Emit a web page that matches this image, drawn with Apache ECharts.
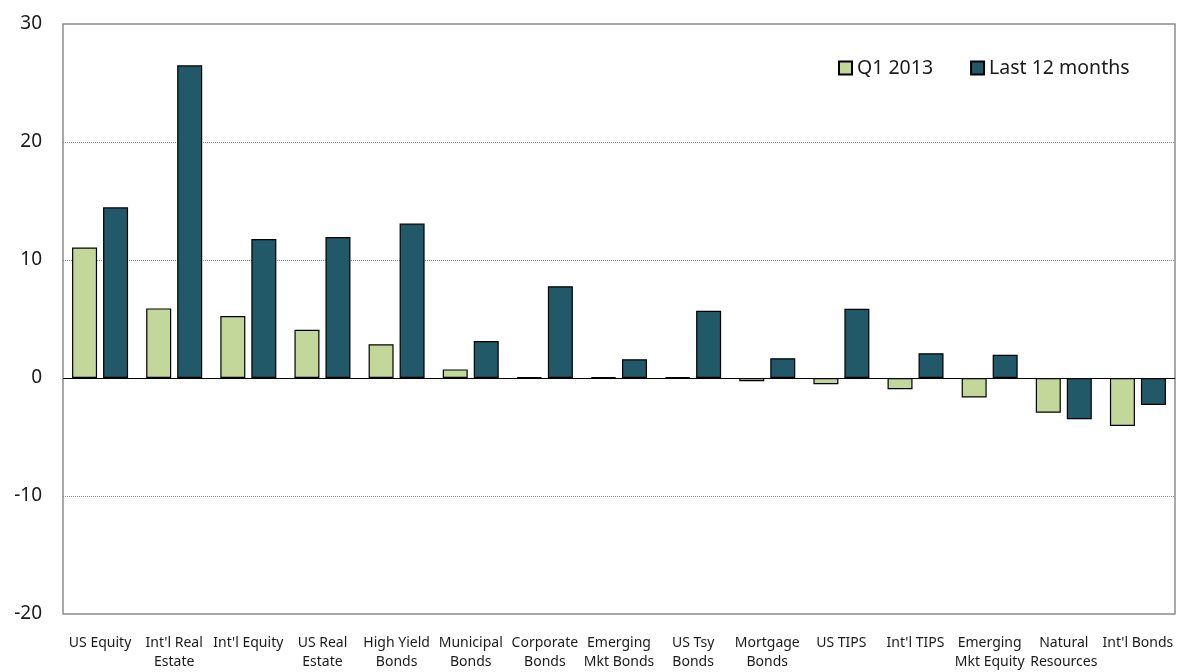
<!DOCTYPE html>
<html>
<head>
<meta charset="utf-8">
<script src="https://cdn.jsdelivr.net/npm/echarts@6/dist/echarts.min.js"></script>
<style>
  html, body { margin:0; padding:0; background:#fff; }
  #chart { width:1177px; height:672px; }
</style>
</head>
<body>
<div id="chart"></div>
<script>
const categories = ['US Equity', "Int'l Real\nEstate", "Int'l Equity", 'US Real\nEstate', 'High Yield\nBonds',
    'Municipal\nBonds', 'Corporate\nBonds', 'Emerging\nMkt Bonds', 'US Tsy\nBonds', 'Mortgage\nBonds',
    'US TIPS', "Int'l TIPS", 'Emerging\nMkt Equity', 'Natural\nResources', "Int'l Bonds"];
const q1_2013 = [11.05, 5.9, 5.26, 4.08, 2.85, 0.73, 0.05, 0.05, 0.05, -0.28, -0.53, -0.95, -1.65, -2.94, -4.06];
const last12 = [14.46, 26.5, 11.77, 11.94, 13.09, 3.13, 7.78, 1.59, 5.7, 1.68, 5.87, 2.1, 1.96, -3.5, -2.29];
const yTicks = { min:-20, max:30, interval:10 };

const font = "'Noto Sans', 'Open Sans', sans-serif";
const colors = ['#c4d79b', '#215968'];

let myChart = echarts.init(document.getElementById('chart'));
let option = {
    animation:false,
    color:colors,
    textStyle:{ fontFamily:font },
    legend:{
        data:['Q1 2013', 'Last 12 months'],
        left:833,
        top:53,
        icon:'rect',
        itemWidth:13,
        itemHeight:13,
        itemGap:37,
        textStyle:{ fontSize:19.5, color:'#1a1a1a', fontFamily:font }
    },
    grid:{
        left:63,
        right:2,
        top:24,
        bottom:52,
        show:true,
        borderColor:'#8c8c8c',
        borderWidth:1.5,
        containLabel:false
    },
    xAxis:{
        type:'category',
        data:categories,
        axisLine:{ show:false, onZero:false },
        axisTick:{ show:false },
        axisLabel:{
            interval:0,
            fontSize:14,
            color:'#1a1a1a',
            lineHeight:19,
            margin:20,
            fontFamily:font
        }
    },
    yAxis:{
        type:'value',
        min:yTicks.min,
        max:yTicks.max,
        interval:yTicks.interval,
        axisLine:{ show:false },
        axisTick:{ show:false },
        axisLabel:{ fontSize:19, color:'#1a1a1a', margin:21, fontFamily:font },
        splitLine:{
            show:true,
            showMinLine:false,
            showMaxLine:false,
            lineStyle:{ color:'#8a8a8a', type:[1,1], width:1 }
        }
    },
    series:[
        {
            type:'bar',
            name:'Q1 2013',
            data:q1_2013,
            barWidth:25,
            barGap:'24%',
            itemStyle:{ borderColor:'#000', borderWidth:1.2 },
            markLine:{
                silent:true,
                symbol:'none',
                label:{ show:false },
                lineStyle:{ color:'#000', type:'solid', width:1.2 },
                data:[ { yAxis:0 } ]
            }
        },
        {
            type:'bar',
            name:'Last 12 months',
            data:last12,
            barWidth:25,
            itemStyle:{ borderColor:'#000', borderWidth:1.2 }
        }
    ]
};
myChart.setOption(option);
</script>
</body>
</html>
